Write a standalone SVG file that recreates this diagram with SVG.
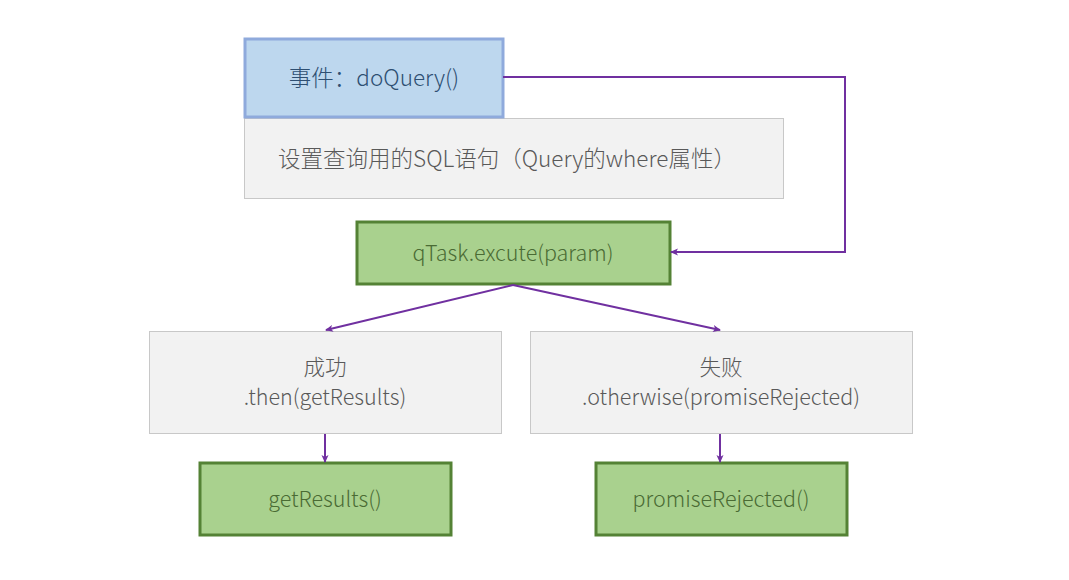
<svg xmlns="http://www.w3.org/2000/svg" width="1069" height="580" viewBox="0 0 1069 580">
<defs>
<marker id="arr" markerWidth="8" markerHeight="8" refX="7" refY="4" orient="auto" markerUnits="userSpaceOnUse">
<path d="M0,0.5 L8,4 L0,7.5 L2,4 Z" fill="#7030a0"/>
</marker>
<style>
text{font-family:"Noto Sans CJK SC","Liberation Sans",sans-serif;font-size:21.5px;font-weight:300;text-anchor:middle;dominant-baseline:central}
.blue{fill:#bdd7ee;stroke:#8faadc;stroke-width:3}
.gray{fill:#f2f2f2;stroke:#c8c8c8;stroke-width:1}
.green{fill:#a9d18e;stroke:#548235;stroke-width:3}
.tb{fill:#2e4f72}
.tg{fill:#595959}
.tgr{fill:#4a6b34}
.conn{fill:none;stroke:#7030a0;stroke-width:2;marker-end:url(#arr)}
</style>
</defs>
<rect width="1069" height="580" fill="#ffffff"/>
<g id="detail">
<rect class="gray" x="244.5" y="118.5" width="539" height="80"/>
<text class="tg" x="507" y="157" style="font-size:22.5px">设置查询用的SQL语句（Query的where属性）</text>
</g>
<g id="event">
<rect class="blue" x="245" y="39" width="258" height="78"/>
<text class="tb" x="374" y="76" style="font-size:22.5px">事件：doQuery()</text>
</g>
<g id="qtask">
<rect class="green" x="357" y="222" width="313" height="62"/>
<text class="tgr" x="513" y="251">qTask.excute(param)</text>
</g>
<g id="success">
<rect class="gray" x="149.5" y="331.5" width="352" height="102"/>
<text class="tg" x="325" y="365">成功</text>
<text class="tg" x="325" y="395">.then(getResults)</text>
</g>
<g id="fail">
<rect class="gray" x="530.5" y="331.5" width="382" height="102"/>
<text class="tg" x="721" y="365">失败</text>
<text class="tg" x="721" y="395">.otherwise(promiseRejected)</text>
</g>
<g id="getResults">
<rect class="green" x="200" y="463" width="251" height="72"/>
<text class="tgr" x="325" y="497">getResults()</text>
</g>
<g id="promiseRejected">
<rect class="green" x="596" y="463" width="251" height="72"/>
<text class="tgr" x="721" y="497">promiseRejected()</text>
</g>
<g id="connectors">
<path class="conn" d="M503,77 H845 V252 H671"/>
<path class="conn" d="M513,285 L326,330"/>
<path class="conn" d="M513,285 L720,330"/>
<path class="conn" d="M325,434 V462"/>
<path class="conn" d="M720,434 V462"/>
</g>
</svg>
